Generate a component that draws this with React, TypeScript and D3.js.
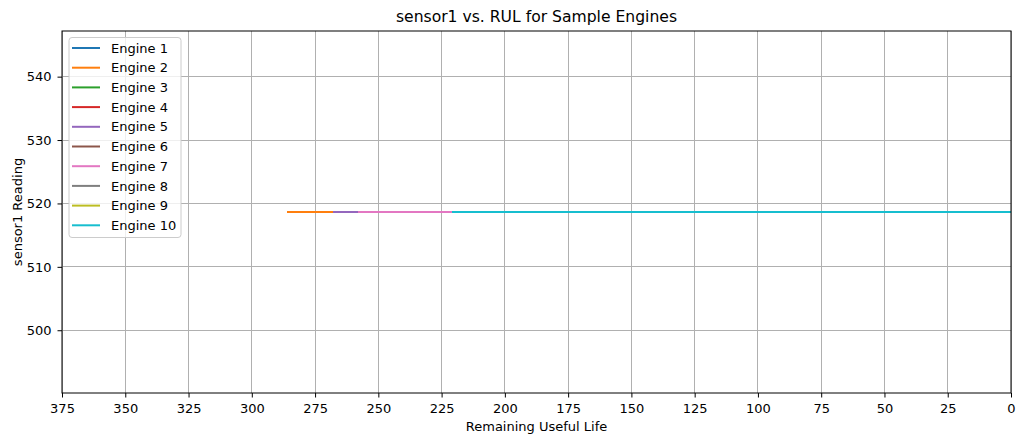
import * as d3 from "d3";
import { useEffect, useRef } from "react";

const engineNames = [
	"Engine 1",
	"Engine 2",
	"Engine 3",
	"Engine 4",
	"Engine 5",
	"Engine 6",
	"Engine 7",
	"Engine 8",
	"Engine 9",
	"Engine 10",
];
// first RUL value of each engine (RUL runs down to 0)
const startRul = [191, 286, 178, 188, 268, 187, 258, 149, 200, 221];
const endRul = [0, 0, 0, 0, 0, 0, 0, 0, 0, 0];
// sensor1 stays flat for every engine
const sensor1 = [518.67, 518.67, 518.67, 518.67, 518.67, 518.67, 518.67, 518.67, 518.67, 518.67];
const xTicks = [375, 350, 325, 300, 275, 250, 225, 200, 175, 150, 125, 100, 75, 50, 25, 0];
const yTicks = [500, 510, 520, 530, 540];
const colors = [
	"#1f77b4",
	"#ff7f0e",
	"#2ca02c",
	"#d62728",
	"#9467bd",
	"#8c564b",
	"#e377c2",
	"#7f7f7f",
	"#bcbd22",
	"#17becf",
];

const W = 1024;
const H = 443;
const margin = { top: 31, right: 13, bottom: 50, left: 62 };
const FONT = "'DejaVu Sans', sans-serif";
const FS = 13;

export default function App() {
	const ref = useRef<SVGSVGElement | null>(null);

	useEffect(() => {
		if (!ref.current) return;
		const svg = d3.select(ref.current);
		svg.selectAll("*").remove();

		const x0 = margin.left;
		const x1 = W - margin.right;
		const y0 = margin.top;
		const y1 = H - margin.bottom;

		const x = d3.scaleLinear().domain([375, 0]).range([x0, x1]);
		const y = d3.scaleLinear().domain([490.1, 547.2]).range([y1, y0]);

		svg.append("rect").attr("width", W).attr("height", H).attr("fill", "white");

		// grid
		const grid = svg
			.append("g")
			.attr("stroke", "#b0b0b0")
			.attr("stroke-width", 1)
			.attr("shape-rendering", "crispEdges");
		grid
			.selectAll("line.gx")
			.data(xTicks)
			.join("line")
			.attr("class", "gx")
			.attr("x1", (d) => x(d))
			.attr("x2", (d) => x(d))
			.attr("y1", y0)
			.attr("y2", y1);
		grid
			.selectAll("line.gy")
			.data(yTicks)
			.join("line")
			.attr("class", "gy")
			.attr("x1", x0)
			.attr("x2", x1)
			.attr("y1", (d) => y(d))
			.attr("y2", (d) => y(d));

		// lines, drawn in engine order so later engines lie on top
		const line = d3
			.line<[number, number]>()
			.x((d) => x(d[0]))
			.y((d) => Math.round(y(d[1])));
		svg
			.append("g")
			.attr("fill", "none")
			.attr("stroke-width", 2)
			.attr("shape-rendering", "crispEdges")
			.selectAll("path")
			.data(engineNames.map((_, i) => i))
			.join("path")
			.attr("stroke", (i) => colors[i])
			.attr("d", (i) =>
				line([
					[startRul[i], sensor1[i]],
					[endRul[i], sensor1[i]],
				]),
			);

		// frame
		svg
			.append("rect")
			.attr("x", x0)
			.attr("y", y0)
			.attr("width", x1 - x0)
			.attr("height", y1 - y0)
			.attr("fill", "none")
			.attr("stroke", "black")
			.attr("stroke-width", 1);

		// x axis
		const xAxis = svg
			.append("g")
			.attr("transform", `translate(0,${y1})`)
			.call(
				d3
					.axisBottom(x)
					.tickValues(xTicks)
					.tickSize(4.5)
					.tickPadding(6)
					.tickFormat((d) => String(d)),
			);
		xAxis.select(".domain").remove();
		xAxis.selectAll("line").attr("stroke-width", 1);
		xAxis.selectAll("text").attr("font-family", FONT).attr("font-size", FS).attr("fill", "black");

		const yAxis = svg
			.append("g")
			.attr("transform", `translate(${x0},0)`)
			.call(
				d3
					.axisLeft(y)
					.tickValues(yTicks)
					.tickSize(4.5)
					.tickPadding(6)
					.tickFormat((d) => String(d)),
			);
		yAxis.select(".domain").remove();
		yAxis.selectAll("line").attr("stroke-width", 1);
		yAxis.selectAll("text").attr("font-family", FONT).attr("font-size", FS).attr("fill", "black");

		// titles
		svg
			.append("text")
			.attr("x", (x0 + x1) / 2)
			.attr("y", 22)
			.attr("text-anchor", "middle")
			.attr("font-family", FONT)
			.attr("font-size", 15.6)
			.text("sensor1 vs. RUL for Sample Engines");
		svg
			.append("text")
			.attr("x", (x0 + x1) / 2)
			.attr("y", 430.5)
			.attr("text-anchor", "middle")
			.attr("font-family", FONT)
			.attr("font-size", FS)
			.text("Remaining Useful Life");
		svg
			.append("text")
			.attr("transform", `translate(22,${(y0 + y1) / 2}) rotate(-90)`)
			.attr("text-anchor", "middle")
			.attr("font-family", FONT)
			.attr("font-size", FS)
			.text("sensor1 Reading");

		// legend
		const lg = svg.append("g").attr("transform", `translate(69,37.5)`);
		lg.append("rect")
			.attr("width", 112)
			.attr("height", 200)
			.attr("rx", 3)
			.attr("fill", "white")
			.attr("fill-opacity", 0.8)
			.attr("stroke", "#cccccc")
			.attr("stroke-width", 1);
		const item = lg
			.selectAll("g")
			.data(engineNames)
			.join("g")
			.attr("transform", (_, i) => `translate(0,${10.5 + i * 19.7})`);
		item
			.append("line")
			.attr("x1", 3)
			.attr("x2", 31)
			.attr("stroke", (_, i) => colors[i])
			.attr("stroke-width", 2);
		item
			.append("text")
			.attr("x", 42)
			.attr("dy", "0.36em")
			.attr("font-family", FONT)
			.attr("font-size", FS)
			.text((d) => d);
	}, []);

	return (
		<svg
			ref={ref}
			width={W}
			height={H}
			style={{ position: "absolute", left: 0, top: 0, display: "block" }}
		></svg>
	);
}
